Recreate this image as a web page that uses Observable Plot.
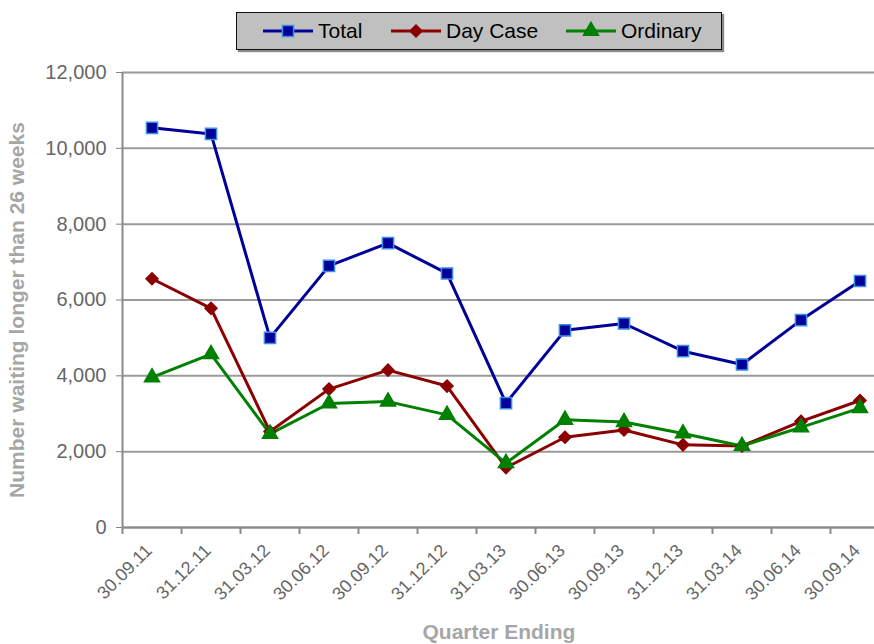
<!DOCTYPE html>
<html>
<head>
<meta charset="utf-8">
<script src="https://cdn.jsdelivr.net/npm/d3@7"></script>
<script src="https://cdn.jsdelivr.net/npm/@observablehq/plot@0.6"></script>
<style>
  html, body { margin: 0; padding: 0; background: #fff; }
  #wrap { position: relative; width: 874px; height: 644px; overflow: hidden; font-family: Arial, "Liberation Sans", sans-serif; }
  #legend { position: absolute; left: 236px; top: 12px; width: 484px; height: 36px; background: #c0c0c0; border: 1px solid #111; box-shadow: 2px 2px 1px #888; font-size: 21px; color: #000; }
  .item { display: flex; align-items: center; position: absolute; top: 0; height: 36px; }
  .item svg { margin-right: 4px; }
</style>
</head>
<body>
<div id="wrap">
  <div id="chart"></div>
  <div id="legend"></div>
</div>
<script>
const quarters = ["30.09.11","31.12.11","31.03.12","30.06.12","30.09.12","31.12.12","31.03.13","30.06.13","30.09.13","31.12.13","31.03.14","30.06.14","30.09.14"];
const total    = [10540, 10380, 5000, 6900, 7500, 6700, 3280, 5200, 5380, 4650, 4300, 5470, 6500];
const dayCase  = [6560, 5780, 2530, 3650, 4150, 3730, 1580, 2380, 2570, 2180, 2150, 2800, 3350];
const ordinary = [3960, 4570, 2470, 3270, 3320, 2970, 1700, 2840, 2780, 2480, 2150, 2640, 3150];
const yTicks   = [0, 2000, 4000, 6000, 8000, 10000, 12000];

const seriesDefs = [
  {name: "Total",    values: total,    stroke: "#000099", fill: "#000099", markStroke: "#3a8ee6", symbol: "square",   r: 6.3},
  {name: "Day Case", values: dayCase,  stroke: "#8b0000", fill: "#8b0000", markStroke: "#8b0000", symbol: "diamond2", r: 5.4},
  {name: "Ordinary", values: ordinary, stroke: "#008000", fill: "#008000", markStroke: "#008000", symbol: "triangle", r: 5.6}
];

const rows = [];
for (const s of seriesDefs) s.values.forEach((v, i) => rows.push({series: s.name, i, v, q: quarters[i]}));
const labels = quarters.map((q, i) => ({i, q}));
const bounds = d3.range(quarters.length + 1).map(i => i - 0.5);

const W = 874, H = 644;
const mL = 122, mT = 72, mB = 117;
// category spacing of ~59px; the frame is cut off at the right edge
const step = 59;
const xMax = (W - (mL + step / 2)) / step;

const marks = [
  Plot.ruleY(yTicks, {stroke: "#9a9a9a", strokeWidth: 2}),
  Plot.axisY({ticks: yTicks, tickFormat: d3.format(","), tickSize: 6, tickPadding: 10, stroke: "#808080", color: "#666", fontSize: 20, label: null}),
  Plot.ruleX([-0.5], {stroke: "#8a8a8a", strokeWidth: 2}),
  Plot.axisX({ticks: bounds, tickFormat: () => "", tickSize: 7, stroke: "#8a8a8a", strokeWidth: 2, label: null}),
  Plot.text(labels, {x: "i", y: 0, text: "q", rotate: -45, textAnchor: "end", dx: -3, dy: 20, fill: "#666", fontSize: 18}),
  Plot.text(["Number waiting longer than 26 weeks"], {frameAnchor: "left", rotate: -90, textAnchor: "middle", dx: -105, dy: 10, fill: "#a6a6a6", fontSize: 21, fontWeight: "bold"}),
  Plot.text(["Quarter Ending"], {frameAnchor: "bottom", x: () => 5.88, dy: 111, fill: "#a6a6a6", fontSize: 21, fontWeight: "bold"})
];
for (const s of seriesDefs) {
  const d = rows.filter(r => r.series === s.name);
  marks.push(Plot.line(d, {x: "i", y: "v", stroke: s.stroke, strokeWidth: 3}));
}
for (const s of seriesDefs) {
  const d = rows.filter(r => r.series === s.name);
  marks.push(Plot.dot(d, {x: "i", y: "v", symbol: () => s.symbol, r: s.r, fill: s.fill, stroke: s.markStroke, strokeWidth: 1.5}));
}
marks.push(Plot.ruleY([0], {stroke: "#8a8a8a", strokeWidth: 2}));

const chart = Plot.plot({
  width: W, height: H,
  marginLeft: mL, marginRight: 0, marginTop: mT, marginBottom: mB,
  x: {type: "linear", domain: [-0.5, xMax], axis: null},
  y: {domain: [0, 12000], axis: null},
  symbol: {type: "identity"},
  style: {fontFamily: "Arial, 'Liberation Sans', sans-serif", background: "white", overflow: "hidden"},
  marks
});
document.getElementById("chart").appendChild(chart);

// legend
const legend = document.getElementById("legend");
const positions = [25, 153, 328];
seriesDefs.forEach((s, k) => {
  const item = document.createElement("div");
  item.className = "item";
  item.style.left = positions[k] + "px";
  const sym = d3.symbol(s.symbol === "square" ? d3.symbolSquare : s.symbol === "diamond2" ? d3.symbolDiamond2 : d3.symbolTriangle, Math.PI * s.r * s.r)();
  item.innerHTML = `<svg width="52" height="20"><line x1="1" x2="51" y1="10" y2="10" stroke="${s.stroke}" stroke-width="3"/><path d="${sym}" transform="translate(26,10)" fill="${s.fill}" stroke="${s.markStroke}" stroke-width="1.5"/></svg><span>${s.name}</span>`;
  legend.appendChild(item);
});
</script>
</body>
</html>
